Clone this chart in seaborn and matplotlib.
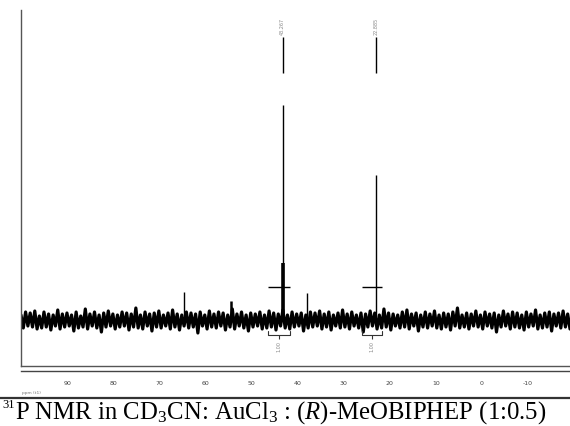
import numpy as np
import pandas as pd
import matplotlib.pyplot as plt
import seaborn as sns

sns.set_style("white")
plt.rcParams['font.family'] = ['Liberation Serif', 'DejaVu Serif']
plt.rcParams['mathtext.fontset'] = 'custom'
plt.rcParams['mathtext.rm'] = 'Liberation Serif'
plt.rcParams['mathtext.it'] = 'Liberation Serif:italic'

# baseline noise (intensity units), sampled from 100 ppm down to -19 ppm
noise = [
    6, -7, 9, -5, 8, -6, 10, -8, 5, -7, 9, -6, 7, -9, 6, -5, 11, -8, 7, -6,
    8, -5, 6, -10, 9, -7, 5, -6, 12, -8, 7, -5, 9, -7, 6, -11, 8, -6, 10, -5,
    7, -8, 6, -6, 9, -5, 8, -9, 7, -6, 13, -7, 6, -8, 9, -5, 7, -10, 8, -6,
    10, -7, 6, -5, 8, -8, 11, -6, 7, -9, 6, -5, 9, -7, 8, -6, 7, -12, 9, -5,
    6, -8, 10, -6, 7, -7, 9, -5, 8, -9, 6, -6, 12, -8, 7, -5, 9, -7, 6, -10,
    8, -6, 7, -5, 9, -8, 6, -7, 10, -6, 8, -9, 7, -5, 11, -7, 6, -8, 9, -6,
    7, -5, 8, -10, 6, -7, 9, -6, 8, -5, 10, -8, 7, -6, 9, -9, 6, -5, 8, -7,
    11, -6, 7, -8, 9, -5, 6, -7, 8, -11, 7, -6, 10, -5, 8, -8, 6, -7, 12, -6,
    8, -9, 7, -5, 6, -7, 9, -6, 11, -8, 7, -5, 8, -10, 6, -6, 9, -7, 7, -5,
    10, -7, 6, -8, 8, -6, 7, -9, 9, -5, 13, -7, 6, -6, 8, -8, 7, -5, 10, -6,
    6, -8, 9, -5, 7, -7, 8, -11, 6, -6, 10, -5, 7, -8, 9, -6, 8, -7, 6, -9,
    9, -6, 7, -5, 11, -8, 6, -7, 8, -6, 9, -10, 7, -5, 8, -7, 10, -6, 7, -8,
]
ppm_start, ppm_end = 100.0, -19.1

# peaks
peak_ppm = [43.267, 22.885, 64.6, 54.4, 38.0]
peak_height = [216, 146, 29, 20, 28]
peak_width = [1.0, 1.0, 1.0, 1.8, 1.0]
shoulder_ppm = [43.267]
shoulder_height = [58]

# labelled peaks
label_ppm = [43.267, 22.885]
label_text = ['43.267', '22.885']

# integrals
int_from = [46.4, 26.0]
int_to = [41.7, 21.7]
int_value = ['1.00', '1.00']
int_level = 34

ruler_major = [100, 90, 80, 70, 60, 50, 40, 30, 20, 10, 0, -10]
ruler_labels = ['', '90', '80', '70', '60', '50', '40', '30', '20', '10', '0', '-10']

spec = pd.DataFrame({'ppm': np.linspace(ppm_start, ppm_end, len(noise)),
                     'intensity': noise})

fig = plt.figure(figsize=(5.7, 4.26), dpi=100)
W, H = 570, 426
ax = fig.add_axes([21 / W, (H - 366) / H, 1 - 21 / W, 356 / H])

sns.lineplot(data=spec, x='ppm', y='intensity', ax=ax, color='black',
             linewidth=2.3, sort=False, estimator=None)
for p, h, w in zip(peak_ppm, peak_height, peak_width):
    ax.vlines(p, 0, h, color='black', linewidth=w)
ax.vlines(shoulder_ppm, 0, shoulder_height, color='black', linewidth=2.6)

for p, t in zip(label_ppm, label_text):
    ax.vlines(p, 248, 284, color='black', linewidth=1.0)
    ax.text(p, 295, t, rotation=90, ha='center', va='center', fontsize=3.5,
            color='#888888', family='DejaVu Sans')

for a, b, v in zip(int_from, int_to, int_value):
    ax.hlines(int_level, a, b, color='black', linewidth=1.0)
    ax.plot([a, a, b, b], [-10, -14, -14, -10], color='#333333', linewidth=0.8)
    mid = (a + b) / 2
    ax.vlines(mid, -18, -14, color='#333333', linewidth=0.8)
    ax.text(mid, -26, v, rotation=90, ha='center', va='center', fontsize=3.5,
            color='#888888', family='DejaVu Sans')

ax.set_xlim(ppm_start, ppm_end)
ax.set_ylim(-45, 311)
ax.set_xticks([])
ax.set_yticks([])
ax.set_xlabel('')
ax.set_ylabel('')
for s in ['top', 'right']:
    ax.spines[s].set_visible(False)
for s in ['left', 'bottom']:
    ax.spines[s].set_color('#555555')
    ax.spines[s].set_linewidth(1.0)

# ppm ruler below the frame
rax = fig.add_axes([21 / W, (H - 371) / H, 1 - 21 / W, 0.0001])
rax.set_xlim(ppm_start, ppm_end)
rax.set_yticks([])
for s in ['top', 'right', 'left']:
    rax.spines[s].set_visible(False)
rax.spines['bottom'].set_color('#444444')
rax.spines['bottom'].set_linewidth(1.0)
rax.set_xticks(ruler_major)
rax.set_xticklabels(ruler_labels)
rax.set_xticks(np.arange(100, -20, -1), minor=True)
rax.tick_params(axis='x', which='major', direction='out', length=5.5, width=0.9,
                color='#444444', labelsize=4.5, labelcolor='#444444', pad=2)
rax.tick_params(axis='x', which='minor', direction='out', length=3.2, width=0.7,
                color='#444444')
for lab in rax.get_xticklabels():
    lab.set_family('DejaVu Sans')

fig.text(22 / W, 1 - 393 / H, 'ppm (t1)', fontsize=3.2, color='#777777',
         family='DejaVu Sans', va='center', ha='left')
fig.add_artist(plt.Line2D([0, 1], [1 - 397.5 / H] * 2, color='#333333', linewidth=1.6))

fig.text(2 / W, 1 - 408 / H, '31', fontsize=9, color='black',
         ha='left', va='baseline')
fig.text(15 / W, 1 - 419 / H,
         r'P NMR in CD$_3$CN: AuCl$_3$ : ($R$)-MeOBIPHEP (1:0.5)',
         fontsize=17.8, color='black', ha='left', va='baseline')

fig.savefig('out.png', dpi=100)
